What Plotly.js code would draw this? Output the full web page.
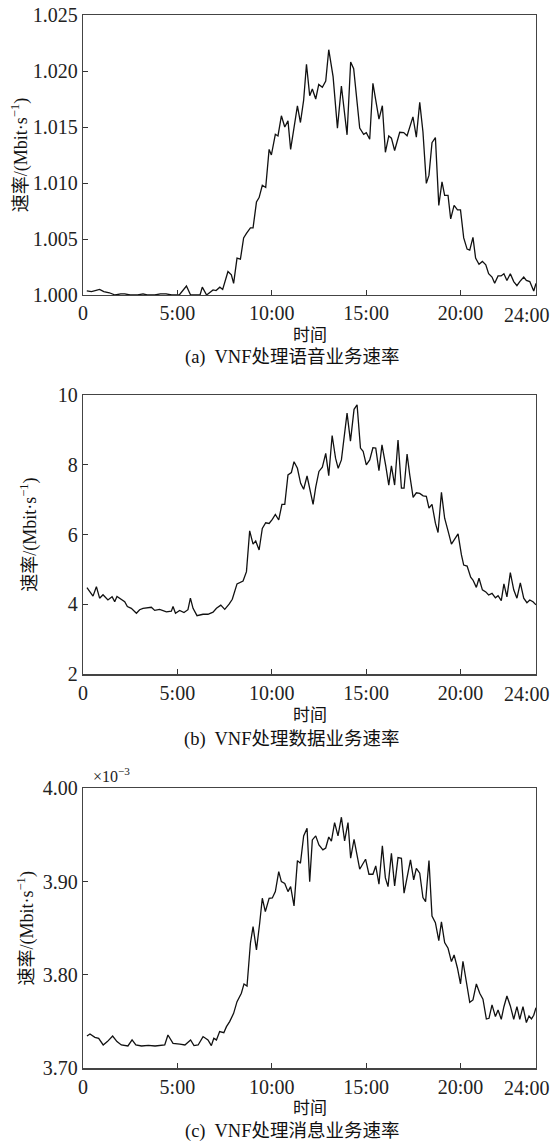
<!DOCTYPE html>
<html>
<head>
<meta charset="utf-8">
<script src="https://cdn.plot.ly/plotly-3.0.1.min.js"></script>
<style>html,body{margin:0;padding:0;background:#fff;}#chart{width:553px;height:1145px;}</style>
</head>
<body>
<div id="chart"></div>
<script>
// ---- data (time in hours) ----
const xTickVals = [0, 5, 10, 15, 20, 24];
const xTickText = ["0", "5:00", "10:00", "15:00", "20:00", ""];
const lastTickText = "24:00";   // drawn right-aligned at the page edge, as in the reference

// (a) voice service rate, Mbit/s
const hoursA = [0.2,0.45,0.88,1.1,1.4,1.7,2.0,2.21,2.5,2.9,3.18,3.4,3.8,4.1,4.4,4.7,5.1,5.48,5.7,6.2,6.32,6.55,6.89,7.05,7.25,7.4,7.68,7.86,7.98,8.16,8.34,8.51,8.66,8.87,9.01,9.19,9.33,9.5,9.68,9.86,9.98,10.19,10.33,10.51,10.69,10.86,11.0,11.36,11.52,11.69,11.84,12.01,12.15,12.33,12.49,12.68,12.86,13.02,13.25,13.48,13.69,13.99,14.18,14.34,14.66,14.87,15.01,15.19,15.36,15.54,15.68,15.86,16.02,16.2,16.34,16.51,16.78,16.99,17.17,17.48,17.66,17.84,18.01,18.19,18.33,18.49,18.67,18.85,19.02,19.16,19.34,19.48,19.66,19.84,20.0,20.17,20.35,20.49,20.66,20.8,20.98,21.16,21.34,21.49,21.67,21.81,21.99,22.15,22.3,22.46,22.64,22.82,22.99,23.14,23.35,23.49,23.67,23.88,24.0];
const voiceRate = [1.00036,1.0003,1.0005,1.0003,1.0002,1.0000,1.0001,1.0001,1.0000,1.0000,1.0001,1.0000,1.0000,1.0001,1.0001,1.0000,1.0000,1.0008,1.0000,1.0000,1.0007,1.0000,1.00045,1.0004,1.0007,1.0005,1.0021,1.0018,1.00104,1.0033,1.0032,1.0051,1.0055,1.0060,1.0060,1.0083,1.0087,1.0098,1.0096,1.0130,1.0125,1.01435,1.0142,1.0160,1.0150,1.01555,1.0130,1.01688,1.0154,1.0174,1.0206,1.0178,1.0184,1.0175,1.0188,1.01855,1.0191,1.0219,1.0195,1.0149,1.01866,1.0143,1.0208,1.0202,1.0149,1.01435,1.0145,1.0139,1.0189,1.0169,1.0157,1.0169,1.01274,1.0142,1.0140,1.0129,1.01453,1.0145,1.01422,1.0159,1.0141,1.0172,1.01458,1.00997,1.0107,1.0136,1.01405,1.0080,1.0101,1.0089,1.0089,1.0068,1.0080,1.0076,1.0076,1.0051,1.0041,1.0040,1.00515,1.0033,1.00274,1.0030,1.0027,1.0019,1.0016,1.00104,1.0017,1.0017,1.0019,1.0013,1.0019,1.0012,1.00083,1.0012,1.0016,1.0013,1.0012,1.00036,1.00104];

// (b) data service rate, Mbit/s
const hoursB = [0.21,0.53,0.71,0.88,1.06,1.32,1.54,1.68,1.8,2.03,2.21,2.35,2.56,2.83,3.0,3.18,3.62,3.8,4.06,4.42,4.68,4.77,4.9,5.12,5.35,5.56,5.69,5.83,6.04,6.36,6.62,6.89,7.07,7.3,7.51,7.74,7.91,8.16,8.48,8.66,8.83,9.01,9.15,9.33,9.5,9.68,9.86,10.03,10.19,10.37,10.54,10.69,10.86,11.04,11.18,11.36,11.53,11.69,11.87,12.19,12.33,12.5,12.68,12.86,13.02,13.2,13.38,13.52,13.69,13.99,14.17,14.36,14.52,14.7,14.84,15.01,15.19,15.36,15.51,15.68,15.84,16.04,16.2,16.34,16.51,16.69,16.87,17.01,17.17,17.31,17.49,17.66,17.84,18.02,18.19,18.33,18.49,18.67,18.81,18.99,19.16,19.34,19.52,19.69,19.87,20.05,20.17,20.35,20.54,20.66,20.84,20.98,21.16,21.34,21.49,21.67,21.85,21.99,22.16,22.3,22.46,22.64,22.82,22.99,23.17,23.35,23.52,23.67,23.84,24.0];
const dataRate = [4.48,4.24,4.51,4.18,4.28,4.13,4.22,4.08,4.23,4.15,4.08,3.94,3.89,3.75,3.85,3.89,3.92,3.83,3.86,3.79,3.81,3.94,3.75,3.83,3.77,3.85,4.18,3.89,3.68,3.72,3.72,3.78,3.89,3.98,3.86,4.01,4.15,4.59,4.67,4.94,6.11,5.73,5.82,5.56,6.18,6.34,6.32,6.44,6.58,6.42,6.87,6.87,7.71,7.78,8.09,7.90,7.47,7.30,7.68,6.87,7.36,7.81,7.93,8.33,7.69,8.84,8.19,7.90,8.14,9.48,8.68,9.59,9.72,8.48,8.39,8.00,8.14,8.49,8.48,7.83,8.57,7.97,7.42,7.97,7.42,8.71,7.33,7.33,8.31,7.71,7.07,7.20,7.18,7.11,7.10,6.76,6.87,6.33,6.06,7.21,6.47,6.11,5.73,5.87,6.02,5.42,5.13,5.10,4.78,4.70,4.49,4.75,4.42,4.36,4.27,4.32,4.19,4.25,4.11,4.59,4.22,4.91,4.42,4.18,4.62,4.18,4.05,4.13,4.08,3.99];

// (c) message service rate, x10^-3 Mbit/s
const hoursC = [0.21,0.37,0.63,0.83,1.07,1.29,1.57,1.8,2.03,2.38,2.6,2.8,3.1,3.46,3.82,4.18,4.33,4.5,4.77,5.13,5.4,5.7,5.88,6.1,6.36,6.62,6.8,6.93,7.07,7.24,7.46,7.6,7.77,7.98,8.16,8.39,8.53,8.69,8.87,9.01,9.19,9.36,9.5,9.66,9.86,10.03,10.19,10.37,10.51,10.69,10.86,11.0,11.18,11.36,11.52,11.69,11.87,12.01,12.15,12.33,12.5,12.71,12.86,13.02,13.16,13.33,13.51,13.69,13.86,14.04,14.18,14.36,14.66,14.97,15.15,15.36,15.51,15.68,15.86,16.02,16.16,16.34,16.51,16.69,16.87,17.01,17.19,17.35,17.52,17.66,17.84,18.01,18.15,18.33,18.49,18.67,18.85,18.99,19.16,19.34,19.52,19.66,19.84,20.0,20.13,20.35,20.49,20.66,20.84,21.02,21.19,21.37,21.51,21.67,21.85,21.99,22.16,22.3,22.46,22.64,22.82,22.99,23.14,23.31,23.49,23.63,23.76,23.88,24.0];
const msgRate = [3.7346,3.7368,3.7332,3.7321,3.7250,3.7286,3.7346,3.7286,3.7250,3.7239,3.7304,3.7250,3.7239,3.7246,3.7239,3.7250,3.7250,3.7357,3.7268,3.7260,3.7250,3.7304,3.7243,3.7250,3.7340,3.7304,3.7243,3.7321,3.7304,3.7393,3.7382,3.7446,3.7500,3.7589,3.7714,3.7804,3.7904,3.7882,3.8340,3.8518,3.8268,3.8554,3.8822,3.8679,3.8822,3.8825,3.8893,3.9107,3.9000,3.8980,3.8893,3.8947,3.8740,3.9225,3.9197,3.9490,3.9572,3.9000,3.9447,3.9490,3.9393,3.9340,3.9360,3.9478,3.9433,3.9632,3.9490,3.9690,3.9436,3.9632,3.9251,3.9454,3.9133,3.9240,3.9079,3.9079,3.9168,3.8972,3.9383,3.9040,3.8947,3.9304,3.8954,3.9258,3.9250,3.8876,3.9054,3.9233,3.9018,3.9143,3.9090,3.8829,3.8786,3.9226,3.8632,3.8560,3.8368,3.8568,3.8347,3.8286,3.8143,3.8215,3.8072,3.7904,3.8147,3.7893,3.7707,3.7732,3.7904,3.7804,3.7740,3.7528,3.7536,3.7679,3.7554,3.7625,3.7525,3.7660,3.7775,3.7668,3.7525,3.7660,3.7525,3.7660,3.7490,3.7560,3.7530,3.7568,3.7650];

// ---- chart ----
const SERIF = "Liberation Serif, Times New Roman, serif";
const CJK = "Liberation Serif, Noto Sans CJK SC, serif";
const lineStyle = {color: "#111", width: 1.3};

const traces = [
  {x: hoursA, y: voiceRate, xaxis: "x", yaxis: "y", type: "scatter", mode: "lines", line: lineStyle, name: "语音业务"},
  {x: hoursB, y: dataRate, xaxis: "x2", yaxis: "y2", type: "scatter", mode: "lines", line: lineStyle, name: "数据业务"},
  {x: hoursC, y: msgRate, xaxis: "x3", yaxis: "y3", type: "scatter", mode: "lines", line: lineStyle, name: "消息业务"}
];

const W = 553, H = 1145;
const xDom = [83/W, 536/W];
function yd(top, bottom){ return [1 - bottom/H, 1 - top/H]; }
const tickFont = {family: SERIF, size: 20, color: "#222"};

function xAxis(anchor){
  return {
    domain: xDom, anchor: anchor, range: [0, 24],
    tickmode: "array", tickvals: xTickVals, ticktext: xTickText,
    ticks: "inside", ticklen: 5, tickwidth: 1, tickcolor: "#333",
    ticklabeloverflow: "allow",
    showline: true, mirror: true, linecolor: "#444", linewidth: 1.3,
    showgrid: false, zeroline: false,
    tickfont: tickFont
  };
}
function yAxis(anchor, dom, range, vals, fmt, standoff){
  return {
    domain: dom, anchor: anchor, range: range,
    tickmode: "array", tickvals: vals, tickformat: fmt,
    ticks: "inside", ticklen: 5, tickwidth: 1, tickcolor: "#333",
    ticklabeloverflow: "allow",
    showline: true, mirror: true, linecolor: "#444", linewidth: 1.3,
    showgrid: false, zeroline: false,
    tickfont: tickFont,
    title: {text: "速率/(Mbit·s<sup>−1</sup>)", font: {family: CJK, size: 18, color: "#111"}, standoff: standoff}
  };
}
function note(x, y, text, font, xanchor){
  return {xref: "paper", yref: "paper", x: x/W, y: 1 - y/H, text: text, showarrow: false,
          xanchor: xanchor || "center", yanchor: "middle", font: font};
}
const xTitleFont = {family: "Noto Sans CJK SC", size: 17, color: "#111"};
const capFont = {family: CJK, size: 18.5, color: "#111"};

const layout = {
  width: W, height: H,
  margin: {l: 0, r: 0, t: 0, b: 0},
  paper_bgcolor: "#fff", plot_bgcolor: "#fff",
  showlegend: false,
  xaxis: xAxis("y"),
  yaxis: yAxis("x", yd(15, 295), [1.000, 1.025], [1.000,1.005,1.010,1.015,1.020,1.025], ".3f", 0),
  xaxis2: xAxis("y2"),
  yaxis2: yAxis("x2", yd(395, 674.3), [2, 10], [2,4,6,8,10], "d", 16),
  xaxis3: xAxis("y3"),
  yaxis3: yAxis("x3", yd(788.3, 1068.3), [3.70, 4.00], [3.70,3.80,3.90,4.00], ".2f", 4),
  annotations: [
    note(552, 314.5, lastTickText, tickFont, "right"),
    note(552, 694, lastTickText, tickFont, "right"),
    note(552, 1088, lastTickText, tickFont, "right"),
    note(310, 333, "时间", xTitleFont),
    note(310, 713, "时间", xTitleFont),
    note(310, 1106, "时间", xTitleFont),
    note(292, 357, "(a)  VNF处理语音业务速率", capFont),
    note(292, 739, "(b)  VNF处理数据业务速率", capFont),
    note(292, 1131, "(c)  VNF处理消息业务速率", capFont),
    note(91, 775, "×10<sup>−3</sup>", {family: SERIF, size: 16, color: "#222"}, "left")
  ]
};

Plotly.newPlot("chart", traces, layout, {staticPlot: true, displayModeBar: false});
</script>
</body>
</html>
